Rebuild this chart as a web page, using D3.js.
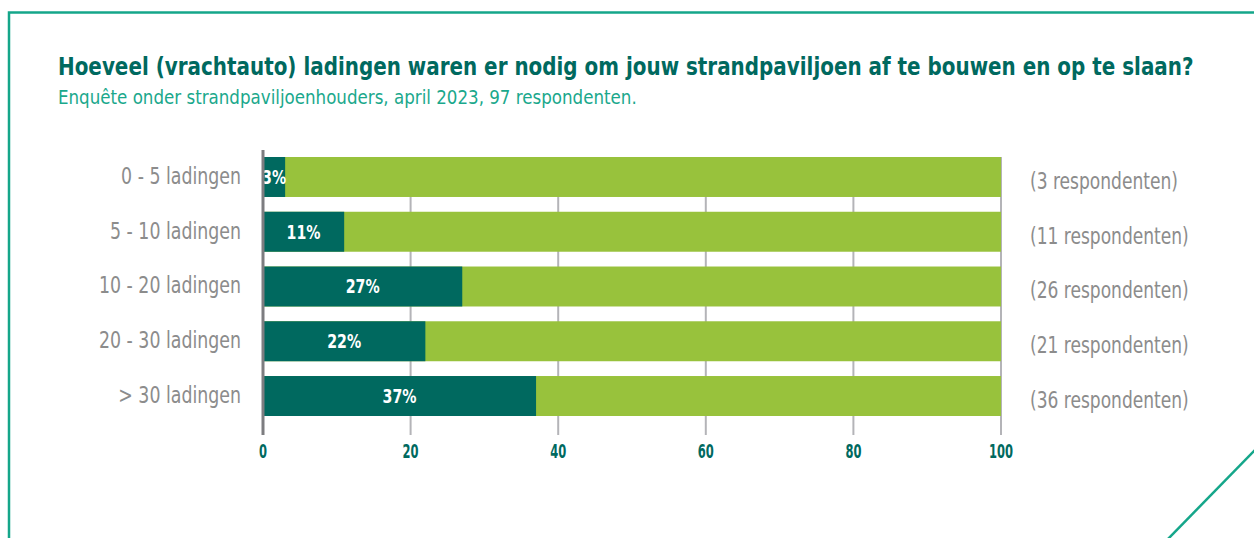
<!DOCTYPE html>
<html>
<head>
<meta charset="utf-8">
<script src="https://cdn.jsdelivr.net/npm/d3@7"></script>
<style>
  body { margin: 0; background: #fff; }
  svg { display: block; }
</style>
</head>
<body>
<script>
const width = 1254
const height = 538

const categories = ['0 - 5 ladingen', '5 - 10 ladingen', '10 - 20 ladingen', '20 - 30 ladingen', '> 30 ladingen']
const percentages = [3, 11, 27, 22, 37]
const respondents = [3, 11, 26, 21, 36]
const ticks = [0, 20, 40, 60, 80, 100]

const font = '"DejaVu Sans Condensed", "Liberation Sans Narrow", sans-serif'
const darkTeal = '#00695f'
const green = '#98c23c'
const frame = '#15a68a'
const grey = '#8c8c8c'

const svg = d3.select('body').append('svg')
  .attr('width', width)
  .attr('height', height)

// squeeze text horizontally so a sample string gets the width it has in the picture
function squeeze(sel, sample, target) {
  const node = sel.node()
  const probe = svg.append('text')
    .attr('font-family', node.getAttribute('font-family'))
    .attr('font-size', node.getAttribute('font-size'))
    .attr('font-weight', node.getAttribute('font-weight'))
    .text(sample)
  const k = target / probe.node().getComputedTextLength()
  probe.remove()
  sel.each(function () {
    const x0 = +this.getAttribute('x')
    d3.select(this).attr('transform', `translate(${x0},0) scale(${k},1) translate(${-x0},0)`)
  })
}

// frame
svg.append('path')
  .attr('d', `M9,538 V12.5 H${width}`)
  .attr('fill', 'none')
  .attr('stroke', frame)
  .attr('stroke-width', 2.5)
svg.append('line')
  .attr('x1', 1167).attr('y1', 540)
  .attr('x2', 1256).attr('y2', 449)
  .attr('stroke', frame)
  .attr('stroke-width', 2.5)

const title = svg.append('text')
  .attr('x', 58).attr('y', 75)
  .attr('font-family', font)
  .attr('font-weight', 'bold')
  .attr('font-size', 25)
  .attr('fill', darkTeal)
  .text('Hoeveel (vrachtauto) ladingen waren er nodig om jouw strandpaviljoen af te bouwen en op te slaan?')
squeeze(title, title.text(), 1136)

const subtitle = svg.append('text')
  .attr('x', 58).attr('y', 104)
  .attr('font-family', font)
  .attr('font-size', 20)
  .attr('fill', '#1aa88c')
  .text('Enquête onder strandpaviljoenhouders, april 2023, 97 respondenten.')
squeeze(subtitle, subtitle.text(), 579)

const x = d3.scaleLinear().domain([0, 100]).range([263, 1001])
const y = d3.scaleBand().domain(categories).range([157, 416]).paddingInner(0.27).paddingOuter(0)

// gridlines
svg.append('g')
  .selectAll('line')
  .data(ticks.slice(1))
  .enter().append('line')
    .attr('x1', d => x(d)).attr('x2', d => x(d))
    .attr('y1', 157).attr('y2', 435)
    .attr('stroke', '#b4b4b8')
    .attr('stroke-width', 2)

const rows = svg.append('g')
  .selectAll('g')
  .data(categories)
  .enter().append('g')

rows.append('rect')
  .attr('x', x(0))
  .attr('y', d => y(d))
  .attr('width', x(100) - x(0))
  .attr('height', y.bandwidth())
  .attr('fill', green)

rows.append('rect')
  .attr('x', x(0))
  .attr('y', d => y(d))
  .attr('width', (d, i) => x(percentages[i]) - x(0))
  .attr('height', y.bandwidth())
  .attr('fill', darkTeal)

const pct = rows.append('text')
  .attr('x', (d, i) => (x(0) + x(percentages[i])) / 2)
  .attr('y', d => y(d) + y.bandwidth() / 2 + 7)
  .attr('text-anchor', 'middle')
  .attr('font-family', font)
  .attr('font-weight', 'bold')
  .attr('font-size', 20)
  .attr('fill', '#fff')
  .text((d, i) => percentages[i] + '%')
squeeze(pct, '37%', 34)

const cat = rows.append('text')
  .attr('x', 241)
  .attr('y', d => y(d) + y.bandwidth() / 2 + 7)
  .attr('text-anchor', 'end')
  .attr('font-family', font)
  .attr('font-size', 23)
  .attr('fill', grey)
  .text(d => d)
squeeze(cat, '0 - 5 ladingen', 120)

const resp = rows.append('text')
  .attr('x', 1030)
  .attr('y', d => y(d) + y.bandwidth() / 2 + 12)
  .attr('font-family', font)
  .attr('font-size', 23)
  .attr('fill', grey)
  .text((d, i) => '(' + respondents[i] + ' respondenten)')
squeeze(resp, '(3 respondenten)', 148)

// zero axis line
svg.append('line')
  .attr('x1', x(0)).attr('x2', x(0))
  .attr('y1', 150).attr('y2', 435)
  .attr('stroke', '#7d7d80')
  .attr('stroke-width', 3)

// tick labels
const tickLabels = svg.append('g')
  .selectAll('text')
  .data(ticks)
  .enter().append('text')
    .attr('x', d => x(d))
    .attr('y', 458)
    .attr('text-anchor', 'middle')
    .attr('font-family', font)
    .attr('font-weight', 'bold')
    .attr('font-size', 20)
    .attr('fill', darkTeal)
    .text(d => d)
squeeze(tickLabels, '100', 24)
</script>
</body>
</html>
